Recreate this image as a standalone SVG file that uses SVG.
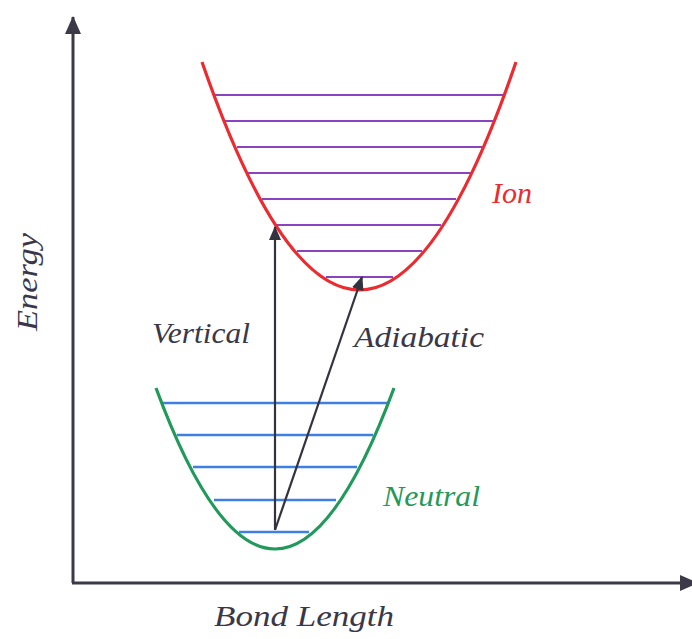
<svg xmlns="http://www.w3.org/2000/svg" width="692" height="639" viewBox="0 0 692 639">
<style>
.axis{stroke:#3c3a48;stroke-width:3;fill:none}
.arr{stroke:#33323f;stroke-width:2.2;fill:none}
.ion{stroke:#ec2a2f;stroke-width:3.2;fill:none}
.neu{stroke:#1f9a5a;stroke-width:3.2;fill:none}
.lvI{stroke:#8a44c0;stroke-width:2}
.lvN{stroke:#3f7fe0;stroke-width:2.5}
text{font-family:"Liberation Serif","Times New Roman",serif;font-style:italic;font-size:30px}
.dark{fill:#3a3848}
</style>
<defs>
<marker id="ah" viewBox="0 0 14 12" refX="13" refY="6" markerWidth="14" markerHeight="12" markerUnits="userSpaceOnUse" orient="auto">
<path d="M0,0 L14,6 L0,12 z" fill="#33323f"/>
</marker>
<marker id="axh" viewBox="0 0 18 16" refX="17" refY="8" markerWidth="18" markerHeight="16" markerUnits="userSpaceOnUse" orient="auto">
<path d="M0,0 L18,8 L0,16 z" fill="#3c3a48"/>
</marker>
</defs>
<g id="axes">
<line class="axis" x1="73" y1="583" x2="73" y2="17" marker-end="url(#axh)"/>
<line class="axis" x1="72" y1="583" x2="697" y2="583" marker-end="url(#axh)"/>
<text class="dark" transform="translate(37,331) rotate(-90)" textLength="98" lengthAdjust="spacingAndGlyphs">Energy</text>
<text class="dark" x="214" y="626" textLength="180" lengthAdjust="spacingAndGlyphs">Bond Length</text>
</g>
<g id="ion">
<line class="lvI" x1="215" y1="95" x2="504" y2="95"/>
<line class="lvI" x1="225" y1="121" x2="493" y2="121"/>
<line class="lvI" x1="237" y1="147" x2="482" y2="147"/>
<line class="lvI" x1="248" y1="173" x2="472" y2="173"/>
<line class="lvI" x1="262" y1="199" x2="456" y2="199"/>
<line class="lvI" x1="275" y1="225" x2="441" y2="225"/>
<line class="lvI" x1="297" y1="251" x2="422" y2="251"/>
<line class="lvI" x1="326" y1="277" x2="393" y2="277"/>
<path class="ion" d="M202,62 Q360,518 516,62"/>
<text x="492" y="203" fill="#ec2a2f" textLength="40" lengthAdjust="spacingAndGlyphs">Ion</text>
</g>
<g id="neutral">
<line class="lvN" x1="162" y1="403" x2="388" y2="403"/>
<line class="lvN" x1="177" y1="435" x2="373" y2="435"/>
<line class="lvN" x1="193" y1="467" x2="357" y2="467"/>
<line class="lvN" x1="214" y1="500" x2="336" y2="500"/>
<line class="lvN" x1="239" y1="532" x2="309" y2="532"/>
<path class="neu" d="M156,388 Q275,710 394,388"/>
<text x="383" y="506" fill="#1f9a5a" textLength="97" lengthAdjust="spacingAndGlyphs">Neutral</text>
</g>
<g id="connectors">
<line class="arr" x1="275" y1="530" x2="275" y2="227" marker-end="url(#ah)"/>
<line class="arr" x1="275" y1="530" x2="362" y2="277" marker-end="url(#ah)"/>
<text class="dark" x="152" y="343" textLength="98" lengthAdjust="spacingAndGlyphs">Vertical</text>
<text class="dark" x="354" y="347" textLength="130" lengthAdjust="spacingAndGlyphs">Adiabatic</text>
</g>
</svg>
